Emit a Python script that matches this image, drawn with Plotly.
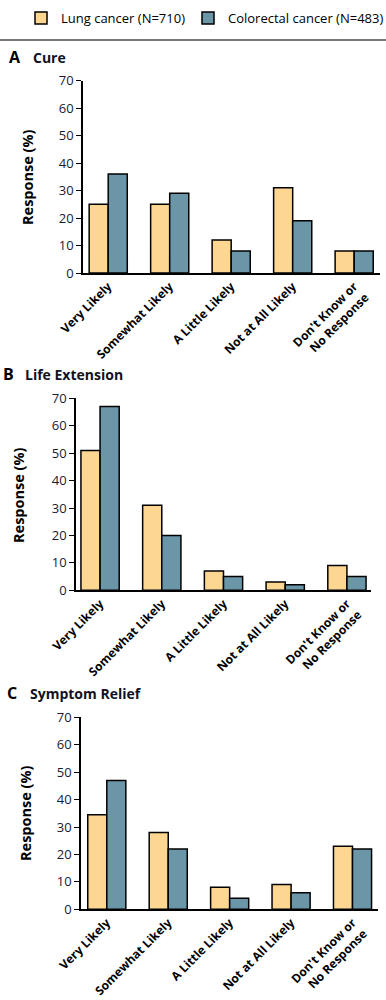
import plotly.graph_objects as go

categories = ["Very Likely", "Somewhat Likely", "A Little Likely", "Not at All Likely", "Don't Know or<br>No Response"]
series_names = ["Lung cancer (N=710)", "Colorectal cancer (N=483)"]

cure_lung = [25, 25, 12, 31, 8]
cure_colorectal = [36, 29, 8, 19, 8]
life_lung = [51, 31, 7, 3, 9]
life_colorectal = [67, 20, 5, 2, 5]
symptom_lung = [34.5, 28, 8, 9, 23]
symptom_colorectal = [47, 22, 4, 6, 22]

panel_titles = ["A", "B", "C"]
panel_names = ["Cure", "Life Extension", "Symptom Relief"]
y_ticks = [0, 10, 20, 30, 40, 50, 60, 70]

LUNG = "#FDD692"
COLO = "#6A96A8"
FONT = "Open Sans"
W, H = 386, 1000

panels = [
    (cure_lung, cure_colorectal, [83, 380], [80.5, 273], [-0.41, 4.42]),
    (life_lung, life_colorectal, [76, 371], [398.3, 590.3], [-0.39, 4.39]),
    (symptom_lung, symptom_colorectal, [81, 377.7], [717.3, 909.3], [-0.42, 4.41]),
]

fig = go.Figure()
for i, (lung, colo, xpx, ypx, xr) in enumerate(panels):
    ax = "" if i == 0 else str(i + 1)
    fig.add_trace(go.Bar(x=categories, y=lung, name=series_names[0], marker=dict(color=LUNG, line=dict(color="black", width=1.5)),
                         xaxis="x" + ax, yaxis="y" + ax, showlegend=(i == 0), legendgroup="l", legend="legend"))
    fig.add_trace(go.Bar(x=categories, y=colo, name=series_names[1], marker=dict(color=COLO, line=dict(color="black", width=1.5)),
                         xaxis="x" + ax, yaxis="y" + ax, showlegend=(i == 0), legendgroup="c", legend="legend2"))
    xd = [xpx[0] / W, xpx[1] / W]
    yd = [1 - ypx[1] / H, 1 - ypx[0] / H]
    fig.layout["xaxis" + ax] = dict(domain=xd, anchor="y" + ax, range=xr, showline=True, linecolor="black", linewidth=1.5,
                                   ticks="", tickangle=-45, automargin=False,
                                   tickfont=dict(family=FONT, size=12, color="black", weight="bold"),
                                   showgrid=False, fixedrange=True)
    fig.layout["yaxis" + ax] = dict(domain=yd, anchor="x" + ax, range=[0, 70], tickvals=y_ticks, showline=True,
                                   linecolor="black", linewidth=1.5, ticks="outside", ticklen=5, tickwidth=1,
                                   tickcolor="black", tickfont=dict(family=FONT, size=13, color="#1a1a33"),
                                   showgrid=False, zeroline=False, fixedrange=True, automargin=False)

# y axis titles
ytitle_pos = [(27, 177), (18, 495), (25, 813)]
for (xp, yp) in ytitle_pos:
    fig.add_annotation(text="Response (%)", x=xp / W, y=1 - yp / H, xref="paper", yref="paper",
                       xanchor="center", yanchor="middle",
                       showarrow=False, textangle=-90,
                       font=dict(family=FONT, size=14.5, color="black", weight="bold"))

# panel titles
title_pos = [((15, 57), (31, 57)), ((8, 374), (23, 374)), ((12, 693), (28, 693))]
for (lp, tp), lt, nt in zip(title_pos, panel_titles, panel_names):
    fig.add_annotation(text=lt, x=lp[0] / W, y=1 - lp[1] / H, xref="paper", yref="paper", showarrow=False,
                       xanchor="center", yanchor="middle",
                       font=dict(family=FONT, size=16, color="black", weight="bold"))
    fig.add_annotation(text=nt, x=tp[0] / W, y=1 - tp[1] / H, xref="paper", yref="paper", showarrow=False,
                       xanchor="left", yanchor="middle",
                       font=dict(family=FONT, size=14, color="#111122", weight="bold"))

# gray rule
fig.add_shape(type="line", x0=0, x1=1, y0=1 - 40 / H, y1=1 - 40 / H, xref="paper", yref="paper",
              line=dict(color="#777777", width=2))

legend_common = dict(orientation="h", y=1 - 3 / H, xanchor="left", yanchor="top",
                     font=dict(family=FONT, size=13, color="black"), itemwidth=30,
                     bgcolor="rgba(0,0,0,0)")

fig.update_layout(
    width=W, height=H, margin=dict(l=0, r=0, t=0, b=0, autoexpand=False),
    barmode="group", bargap=0.38, bargroupgap=0,
    plot_bgcolor="white", paper_bgcolor="white",
    legend=dict(x=21 / W, **legend_common),
    legend2=dict(x=188 / W, **legend_common),
)

fig.write_html("out.html", config={"displayModeBar": False},
               post_script="document.body.style.margin='0';document.body.style.overflow='hidden';")
